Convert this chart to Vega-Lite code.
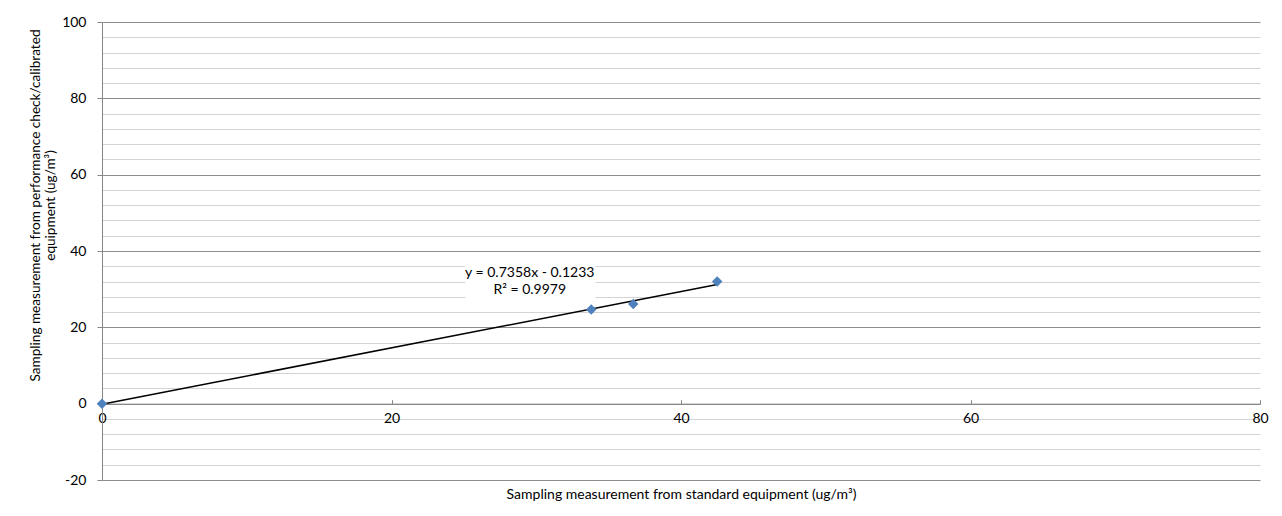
{
  "$schema": "https://vega.github.io/schema/vega-lite/v6.json",
  "width": 1158,
  "height": 458,
  "autosize": {"type": "none"},
  "padding": {"left": 102, "top": 22, "right": 22, "bottom": 36},
  "background": "white",
  "config": {
    "view": {"stroke": null},
    "font": "Lato",
    "axis": {"labelFont": "Lato", "titleFont": "Lato", "labelFontSize": 14, "titleFontSize": 14, "labelColor": "#000000", "titleColor": "#000000", "titleFontWeight": "normal", "labelOverlap": false, "labelBound": false, "labelFlush": false}
  },
  "datasets": {
    "points": [
      {"standard": 0, "check": 0},
      {"standard": 33.8, "check": 24.7},
      {"standard": 36.7, "check": 26.1},
      {"standard": 42.5, "check": 32.0}
    ],
    "note": [
      {"label": "trendline"}
    ]
  },
  "layer": [
    {
      "data": {"name": "note"},
      "mark": {"type": "rect", "fill": "white", "stroke": null},
      "encoding": {
        "x": {"datum": 25.1, "type": "quantitative", "scale": {"domain": [0, 80], "nice": false, "zero": false},
          "axis": {
            "values": [0, 20, 40, 60, 80],
            "tickCount": 5,
            "offset": -76.33,
            "grid": false,
            "domainColor": "#868686",
            "tickColor": "#868686",
            "tickSize": -4,
            "labelPadding": 12,
            "title": "Sampling measurement from standard equipment  (ug/m³)",
            "titleY": 91,
            "titleBaseline": "middle"
          }
        },
        "x2": {"datum": 34.1},
        "y": {"datum": 38.6, "type": "quantitative", "scale": {"domain": [-20, 100], "nice": false, "zero": false},
          "axis": {
            "values": [-20, -16, -12, -8, -4, 0, 4, 8, 12, 16, 20, 24, 28, 32, 36, 40, 44, 48, 52, 56, 60, 64, 68, 72, 76, 80, 84, 88, 92, 96, 100],
            "tickCount": 31,
            "grid": true,
            "gridColor": {"condition": {"test": "datum.value % 20 === 0", "value": "#8c8c8c"}, "value": "#d4d4d4"},
            "gridWidth": 1,
            "domainColor": "#868686",
            "tickColor": "#868686",
            "tickOpacity": {"condition": {"test": "datum.value % 20 === 0", "value": 1}, "value": 0},
            "tickSize": 5,
            "labelPadding": 11,
            "labelExpr": "datum.value % 20 === 0 ? '' + datum.value : ''",
            "title": ["Sampling measurement from performance check/calibrated", "equipment (ug/m³)"],
            "titleFontSize": 13.6,
            "titlePadding": 4,
            "titleY": 183
          }
        },
        "y2": {"datum": 27.2}
      }
    },
    {
      "data": {"name": "points"},
      "transform": [{"regression": "check", "on": "standard"}],
      "mark": {"type": "line", "color": "#000000", "strokeWidth": 1.5},
      "encoding": {
        "x": {"field": "standard", "type": "quantitative"},
        "y": {"field": "check", "type": "quantitative"}
      }
    },
    {
      "data": {"name": "points"},
      "mark": {"type": "point", "shape": "diamond", "filled": true, "color": "#4F81BD", "opacity": 1, "size": 110},
      "encoding": {
        "x": {"field": "standard", "type": "quantitative"},
        "y": {"field": "check", "type": "quantitative"}
      }
    },
    {
      "data": {"name": "note"},
      "mark": {"type": "text", "font": "Lato", "fontSize": 14, "fontWeight": "normal", "align": "center", "baseline": "middle", "color": "#000000"},
      "encoding": {
        "x": {"datum": 29.55, "type": "quantitative"},
        "y": {"datum": 34.2, "type": "quantitative"},
        "text": {"value": "y = 0.7358x - 0.1233"}
      }
    },
    {
      "data": {"name": "note"},
      "mark": {"type": "text", "font": "Lato", "fontSize": 14, "fontWeight": "normal", "align": "center", "baseline": "middle", "color": "#000000"},
      "encoding": {
        "x": {"datum": 29.55, "type": "quantitative"},
        "y": {"datum": 29.9, "type": "quantitative"},
        "text": {"value": "R² = 0.9979"}
      }
    }
  ]
}
